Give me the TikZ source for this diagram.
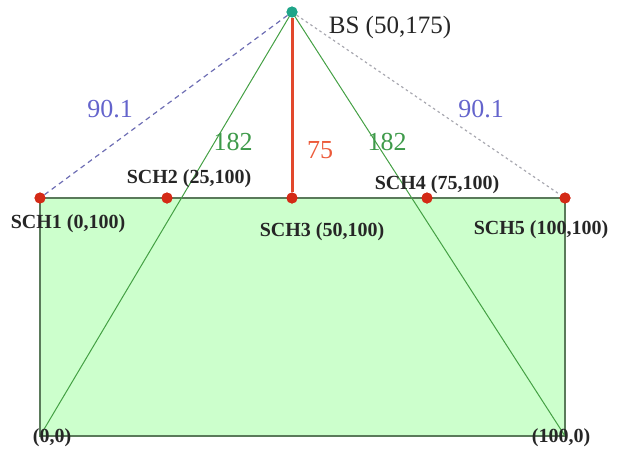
\documentclass[tikz,border=0pt]{standalone}
\usepackage{fontspec}
\setmainfont{Liberation Serif}
\definecolor{fillg}{HTML}{CCFFCC}
\definecolor{edgeg}{HTML}{5A7A5A}
\definecolor{lineg}{HTML}{44A044}
\definecolor{redl}{HTML}{E2482C}
\definecolor{dotr}{HTML}{D42A16}
\definecolor{teal}{HTML}{1FA589}
\definecolor{bluel}{HTML}{6E6EB4}
\definecolor{bluet}{HTML}{6464CC}
\definecolor{greyd}{HTML}{A8A8B0}
\definecolor{greent}{HTML}{3E9A4A}
\definecolor{redt}{HTML}{EC5A3A}
\begin{document}
\begin{tikzpicture}[x=1pt,y=-1pt,
  dotnode/.style={circle,fill=dotr,inner sep=0pt,minimum size=11pt},
  bsnode/.style={circle,fill=teal,inner sep=0pt,minimum size=11pt},
  schlab/.style={font=\fontsize{20}{20}\selectfont\bfseries,text=black!85,inner sep=0pt},
  dist/.style={font=\fontsize{26}{26}\selectfont,inner sep=0pt}]
\useasboundingbox (0,0) rectangle (617,450);
% rectangle
\coordinate (bl) at (40,436);
\coordinate (br) at (565,436);
\coordinate (tl) at (40,198);
\coordinate (tr) at (565,198);
\fill[fillg] (tl) rectangle (br);
\draw[edgeg,line width=1.2pt] (tl) -- (bl) -- (br) -- (tr) -- (tl);
% nodes
\node[bsnode] (bs) at (292,12) {};
\node[dotnode] (sch1) at (40,198) {};
\node[dotnode] (sch2) at (167,198) {};
\node[dotnode] (sch3) at (292,198) {};
\node[dotnode] (sch4) at (427,198) {};
\node[dotnode] (sch5) at (565,198) {};
% connectors
\draw[lineg,line width=1pt] (bs.center) -- (bl);
\draw[lineg,line width=1pt] (bs.center) -- (br);
\draw[bluel,dashed,line width=1.2pt,dash pattern=on 5pt off 4pt] (bs) -- (sch1);
\draw[greyd,line width=1.2pt,dash pattern=on 2.5pt off 3pt] (bs) -- (sch5);
\draw[redl,line width=3pt] (bs) -- (sch3);
% redraw dots above lines
\node[bsnode] at (bs) {};
\foreach \n in {sch1,sch2,sch3,sch4,sch5}{\node[dotnode] at (\n) {};}
% labels
\node[font=\fontsize{25}{25}\selectfont,inner sep=0pt,text=black!85] (bslab) at (390,27) {BS (50,175)};
\node[schlab] (l1) at (68,224) {SCH1 (0,100)};
\node[schlab] (l2) at (189,179) {SCH2 (25,100)};
\node[schlab] (l3) at (322,232) {SCH3 (50,100)};
\node[schlab] (l4) at (437,185) {SCH4 (75,100)};
\node[schlab] (l5) at (541,230) {SCH5 (100,100)};
\node[schlab] (l6) at (52,438) {(0,0)};
\node[schlab] (l7) at (561,438) {(100,0)};
\node[dist,text=bluet] (d1) at (110,109) {90.1};
\node[dist,text=bluet] (d2) at (481,109) {90.1};
\node[dist,text=greent] (d3) at (233,142) {182};
\node[dist,text=redt] (d4) at (320,150) {75};
\node[dist,text=greent] (d5) at (387,142) {182};
\end{tikzpicture}
\end{document}
